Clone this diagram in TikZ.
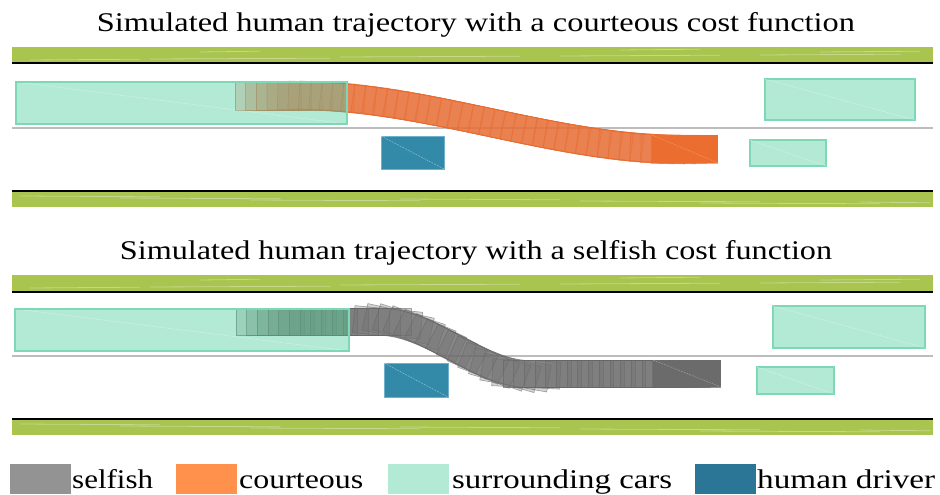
\documentclass[tikz,border=0pt]{standalone}
\usepackage{fontspec}
\setmainfont{Liberation Serif}
\usepackage{graphicx}
\definecolor{grass}{HTML}{A9C44F}
\definecolor{divgray}{HTML}{BDBDBD}
\definecolor{cyanfill}{HTML}{B3EAD6}
\definecolor{cyanline}{HTML}{7DD8B5}
\definecolor{bluecar}{HTML}{3389A8}
\definecolor{blueline}{HTML}{6FB0CC}
\definecolor{orangetr}{HTML}{E9713A}
\definecolor{orangeedge}{HTML}{E8682A}
\definecolor{orangecar}{HTML}{EB6D30}
\definecolor{olivetr}{HTML}{A8996E}
\definecolor{oliveedge}{HTML}{A08A5A}
\definecolor{graytr}{HTML}{6F6F6F}
\definecolor{grayedge}{HTML}{666666}
\definecolor{graycar}{HTML}{6B6B6B}
\definecolor{tealtr}{HTML}{649C82}
\definecolor{tealedge}{HTML}{5A8C76}
\definecolor{legGray}{HTML}{939393}
\definecolor{legOrange}{HTML}{FF914D}
\definecolor{legCyan}{HTML}{B3EAD6}
\definecolor{legBlue}{HTML}{2B7596}
\tikzset{
  grassstrip/.style={fill=grass},
  edgeline/.style={draw=black,line width=2pt},
  laneline/.style={draw=divgray,line width=2pt},
  othercar/.style={fill=cyanfill,draw=cyanline,line width=1.1pt},
  carfill/.style={fill=cyanfill},
  carborder/.style={draw=cyanline,line width=1.1pt},
  humancar/.style={fill=bluecar,draw=blueline,line width=0.6pt},
  diag/.style={draw=white,draw opacity=0.45,line width=0.5pt,dash pattern=on 2pt off 1pt},
  trailO/.style={fill=orangetr,fill opacity=0.3,draw=orangeedge,draw opacity=0.55,line width=0.6pt},
  trailOl/.style={fill=olivetr,fill opacity=0.3,draw=oliveedge,draw opacity=0.55,line width=0.6pt},
  trailG/.style={fill=graytr,fill opacity=0.3,draw=grayedge,draw opacity=0.6,line width=0.6pt},
  trailT/.style={fill=tealtr,fill opacity=0.3,draw=tealedge,draw opacity=0.6,line width=0.6pt},
  titletext/.style={font=\fontsize{27}{30}\selectfont,anchor=base,inner sep=0pt},
  legtext/.style={font=\fontsize{27}{30}\selectfont,anchor=base west,inner sep=0pt},
  streak/.style={draw=white,draw opacity=0.35,line width=0.8pt,line cap=round}
}
\newcommand\drawroad{%
  \fill[grassstrip] (12,47) rectangle (933,63);
  \foreach \a/\b/\c in {30/140/60,150/330/59,340/520/57,560/720/56,760/900/55,200/260/52,620/700/50,820/920/52}{
    \draw[streak] (\a,\c) -- (\b,\c-0.8);}
  \draw[edgeline] (12,63.5) -- (933,63.5);
  \draw[laneline] (12,128) -- (933,128);
  \draw[edgeline] (12,191) -- (933,191);
  \fill[grassstrip] (12,192) rectangle (933,207);
  \foreach \a/\b/\c in {20/160/196,120/280/198,250/420/200,400/560/199,580/760/201,700/880/203,860/930/202}{
    \draw[streak] (\a,\c) -- (\b,\c+0.8);}
}
\newcommand\courteoustrail[1]{%
  \foreach \i in {0,...,39}{
    \pgfmathsetmacro\cx{268+\i*10.68}
    \pgfmathsetmacro\t{max(0,min(1,(\cx-300)/380))}
    \pgfmathsetmacro\cy{96+53*(3*\t*\t-2*\t*\t*\t)}
    \pgfmathsetmacro\ang{-atan(53*6*\t*(1-\t)/380)}
    \path[#1,shift={(\cx,\cy)},rotate=\ang] (-33,-14) rectangle (33,14);
  }}
\newcommand\selfishtrail[1]{%
  \foreach \i in {0,...,39}{
    \pgfmathsetmacro\cx{270+\i*10.68}
    \pgfmathsetmacro\t{max(0,min(1,(\cx-380)/150))}
    \pgfmathsetmacro\cy{322+52*(3*\t*\t-2*\t*\t*\t)}
    \pgfmathsetmacro\ang{-atan(52*6*\t*(1-\t)/150)}
    \path[#1,shift={(\cx,\cy)},rotate=\ang] (-34,-13.5) rectangle (34,13.5);
  }}
\begin{document}
\begin{tikzpicture}[x=1pt,y=-1pt]
\useasboundingbox (0,0) rectangle (940,495);
\fill[white] (0,0) rectangle (940,495);

% ---------- Panel 1: courteous ----------
\node[titletext] (t1) at (476,32) {\resizebox{758pt}{\height}{Simulated human trajectory with a courteous cost function}};
\drawroad
\path[carfill] (16,82) rectangle (347,124);
\draw[diag] (16,82) -- (347,124);
\begin{scope}
  \clip (0,0) rectangle (347,240);
  \courteoustrail{trailOl}
\end{scope}
\begin{scope}
  \clip (347,0) rectangle (940,240);
  \courteoustrail{trailO}
\end{scope}
\path[carborder] (16,82) rectangle (347,124);
\fill[orangecar] (652,135) rectangle (718,163);
\draw[diag,draw=orangetr!40!white] (652,135) -- (718,163);
\path[othercar] (765,79) rectangle (915,120);
\draw[diag] (765,79) -- (915,120);
\path[othercar] (750,140) rectangle (826,166);
\draw[diag] (750,140) -- (826,166);
\path[humancar] (381,136) rectangle (444,169);
\draw[diag] (381,136) -- (444,169);

% ---------- Panel 2: selfish ----------
\node[titletext] (t2) at (476,259) {\resizebox{712pt}{\height}{Simulated human trajectory with a selfish cost function}};
\begin{scope}[shift={(0,228)}]
\drawroad
\end{scope}
\path[carfill] (15,309) rectangle (349,351);
\draw[diag] (15,309) -- (349,351);
\begin{scope}
  \clip (0,240) rectangle (349,460);
  \selfishtrail{trailT}
\end{scope}
\begin{scope}
  \clip (349,240) rectangle (940,460);
  \selfishtrail{trailG}
\end{scope}
\path[carborder] (15,309) rectangle (349,351);
\fill[graycar] (653,360) rectangle (721,387);
\draw[diag,draw=white!70!gray] (653,360) -- (721,387);
\path[othercar] (773,306) rectangle (925,348);
\draw[diag] (773,306) -- (925,348);
\path[othercar] (757,367) rectangle (834,394);
\draw[diag] (757,367) -- (834,394);
\path[humancar] (384,363) rectangle (448,397);
\draw[diag] (384,363) -- (448,397);

% ---------- Legend ----------
\fill[legGray] (10,464) rectangle (71,494);
\node[legtext] (l1) at (72,488) {\resizebox{81pt}{\height}{selfish}};
\fill[legOrange] (176,464) rectangle (237,494);
\node[legtext] (l2) at (239,488) {\resizebox{124pt}{\height}{courteous}};
\fill[legCyan] (388,464) rectangle (449,494);
\node[legtext] (l3) at (452,488) {\resizebox{220pt}{\height}{surrounding cars}};
\fill[legBlue] (695,464) rectangle (756,494);
\node[legtext] (l4) at (757,488) {\resizebox{178pt}{\height}{human driver}};
\end{tikzpicture}
\end{document}
